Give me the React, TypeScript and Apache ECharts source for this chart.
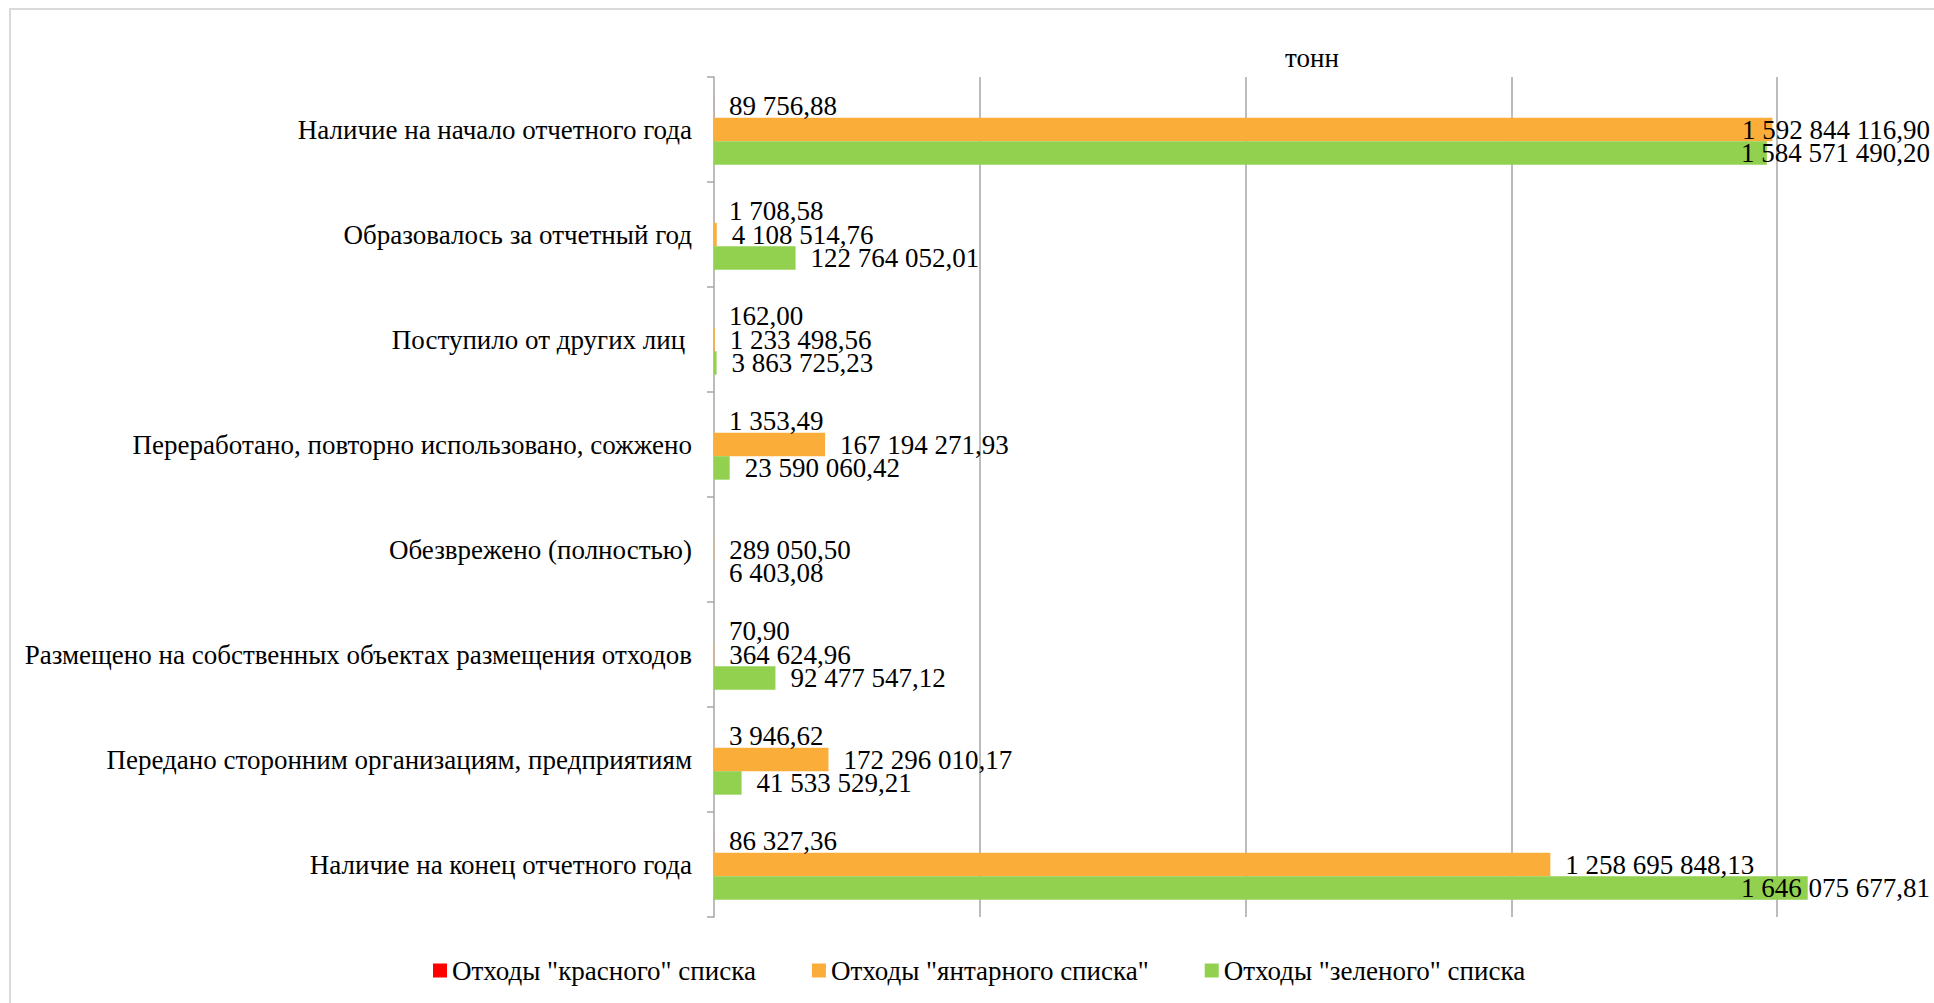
import React, { useEffect, useRef } from "react";
import * as echarts from "echarts";

const categories: string[] = [
  "Наличие на начало отчетного года",
  "Образовалось за отчетный год",
  "Поступило от других лиц ",
  "Переработано, повторно использовано, сожжено",
  "Обезврежено (полностью)",
  "Размещено на собственных объектах размещения отходов",
  "Передано сторонним организациям, предприятиям",
  "Наличие на конец отчетного года",
];

const seriesNames: string[] = [
  'Отходы "красного" списка',
  'Отходы "янтарного списка"',
  'Отходы "зеленого" списка',
];

const redValues: (number | null)[] = [89756.88, 1708.58, 162.0, 1353.49, null, 70.9, 3946.62, 86327.36];
const amberValues: (number | null)[] = [
  1592844116.9, 4108514.76, 1233498.56, 167194271.93, 289050.5, 364624.96, 172296010.17, 1258695848.13,
];
const greenValues: (number | null)[] = [
  1584571490.2, 122764052.01, 3863725.23, 23590060.42, 6403.08, 92477547.12, 41533529.21, 1646075677.81,
];

const axisMin = 0;
const axisMax = 1800000000;
const axisInterval = 400000000;

const colors = ["#FF0000", "#FBAD3A", "#92D050"];
const FONT = '"Liberation Serif", "Times New Roman", serif';
const FS = 27;

function fmt(v: number): string {
  const s = v.toFixed(2);
  const [intPart, dec] = s.split(".");
  const grouped = intPart.replace(/\B(?=(\d{3})+(?!\d))/g, " ");
  return grouped + "," + dec;
}

export default function App() {
  const ref = useRef<HTMLDivElement>(null);
  useEffect(() => {
    if (!ref.current) return;
    const chart = echarts.init(ref.current, null, { renderer: "svg" });
    const W = 1934;
    const limit = W - 4;
    const values = [redValues, amberValues, greenValues];
    chart.setOption({
      animation: false,
      backgroundColor: "#ffffff",
      textStyle: { fontFamily: FONT },
      grid: { left: 714, right: 24, top: 77, bottom: 86, containLabel: false },
      legend: {
        data: seriesNames,
        left: 428,
        top: 952,
        icon: "rect",
        itemWidth: 14,
        itemHeight: 14,
        itemGap: 56,
        selectedMode: false,
        textStyle: { fontFamily: FONT, fontSize: FS, color: "#000" },
      },
      graphic: [
        {
          type: "rect",
          shape: { x: 10, y: 9, width: 1940, height: 1010 },
          style: { fill: "none", stroke: "#d9d9d9", lineWidth: 2 },
          silent: true,
        },
        {
          type: "text",
          x: 1312,
          y: 58,
          style: {
            text: "тонн",
            fontFamily: FONT,
            fontSize: FS,
            fill: "#000",
            align: "center",
            verticalAlign: "middle",
          },
        },
      ],
      xAxis: {
        type: "value",
        min: axisMin,
        max: axisMax,
        interval: axisInterval,
        axisLabel: { show: false },
        axisLine: { show: false },
        axisTick: { show: false },
        splitLine: {
          show: true,
          showMinLine: false,
          showMaxLine: false,
          lineStyle: { color: "#a6a6a6", width: 1.5 },
        },
      },
      yAxis: {
        type: "category",
        inverse: true,
        data: categories,
        axisLine: { show: true, lineStyle: { color: "#a6a6a6", width: 1.5 } },
        axisTick: { show: true, length: 7, lineStyle: { color: "#a6a6a6", width: 1.5 } },
        axisLabel: { fontFamily: FONT, fontSize: FS, color: "#000", margin: 22 },
      },
      labelLayout: (params: any) => {
        const r = params.labelRect;
        if (r && r.x + r.width > limit) {
          return { dx: limit - (r.x + r.width) };
        }
        return {};
      },
      series: seriesNames.map((name, i) => ({
        name,
        type: "bar",
        data: values[i],
        barGap: "0%",
        barCategoryGap: "33%",
        itemStyle: { color: colors[i] },
        label: {
          show: true,
          position: "right",
          distance: 15,
          fontFamily: FONT,
          fontSize: FS,
          color: "#000",
          formatter: (p: any) => (p.value == null ? "" : fmt(p.value)),
        },
      })),
    });
    return () => chart.dispose();
  }, []);
  return (
    <div
      ref={ref}
      style={{ position: "absolute", left: 0, top: 0, width: 1934, height: 1003 }}
    />
  );
}
